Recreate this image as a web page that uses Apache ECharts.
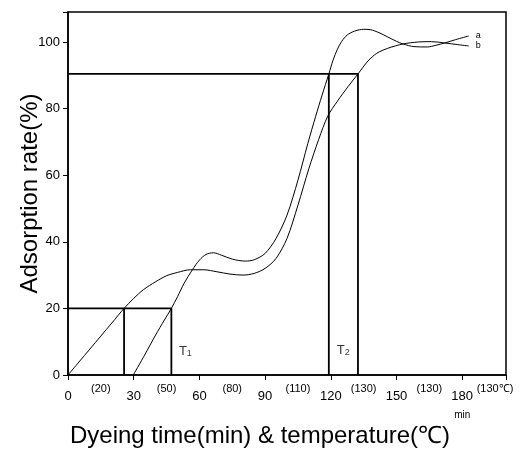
<!DOCTYPE html>
<html>
<head>
<meta charset="utf-8">
<script src="https://cdn.jsdelivr.net/npm/echarts@6/dist/echarts.min.js"></script>
<style>
  html, body { margin: 0; padding: 0; background: #fff; }
  #main { width: 526px; height: 451px; }
</style>
</head>
<body>
<div id="main"></div>
<script>
// curve a : starts at 30 min, overshoots around 130-140 min
var timeA  = [29.8, 35, 40, 44, 47.2, 50, 53, 56.8, 60, 63, 66.4, 70, 75, 81, 85, 90, 95, 100, 105, 109.5, 113.1, 116, 119.1, 121, 123, 125, 127.5, 131, 135, 138, 142, 146, 150, 153, 158, 164, 168, 172, 177, 183]
var valueA = [0, 6, 12, 16.5, 20, 23.5, 27.5, 31.6, 34.5, 36.2, 36.7, 36, 34.8, 34.2, 34.6, 36.5, 41, 48, 58.5, 69.5, 77.7, 84, 90.4, 94.5, 97.8, 100.2, 102.1, 103.3, 103.8, 103.7, 102.8, 101.5, 100.2, 99.4, 98.6, 98.5, 99, 99.7, 100.7, 101.8]
// curve b : starts at 0 min, smooth
var timeB  = [0, 5, 10, 15, 20, 25.6, 30, 34.4, 40, 45, 50, 55.9, 62, 68, 74, 80, 85, 90, 95, 100, 105, 110, 114.5, 118.6, 123, 128, 132.4, 137, 141, 146, 153, 160, 166, 172, 178, 183]
var valueB = [0, 3.9, 7.8, 11.7, 15.6, 20, 23, 25.6, 28, 29.8, 30.8, 31.6, 31.6, 31, 30.3, 30, 30.5, 32, 35, 41, 51, 62, 70.8, 77.7, 82.2, 86.7, 90.4, 94.3, 96.6, 98.1, 99.4, 100, 100.1, 99.7, 99.2, 98.8]

// T1 / T2 marker boxes
var t1Times = [25.6, 47.2]
var t1Level = 20
var t2Times = [119.1, 132.4]
var t2Level = 90.4
var markLabels = [['T', '1', 53.6, 7.2], ['T', '2', 125.7, 7.5]]

// axis labels
var timeTicks = [0, 30, 60, 90, 120, 150, 180]
var tempLabels = ['(20)', '(50)', '(80)', '(110)', '(130)', '(130)', '(130\u2103)']

var font = '"Liberation Sans", Arial, Helvetica, sans-serif'

function zip (xs, ys) {
  return xs.map(function (x, i) { return [x, ys[i]] })
}

function boxSeries (times, level) {
  var style = { color: '#000', width: 1.8 }
  return [
    { type: 'line', data: [[0, level], [times[1], level], [times[1], 0]], symbol: 'none', lineStyle: style, silent: true },
    { type: 'line', data: [[times[0], level], [times[0], 0]], symbol: 'none', lineStyle: style, silent: true }
  ]
}

var chart = echarts.init(document.getElementById('main'))

var option = {
  animation: false,
  backgroundColor: '#fff',
  grid: {
    left: 68, right: 20, top: 12, bottom: 76,
    containLabel: false, outerBoundsMode: 'none',
    show: true, borderColor: '#000', borderWidth: 1.5
  },
  xAxis: [
    {
      type: 'value', min: 0, max: 200, interval: 30,
      axisLine: { lineStyle: { color: '#000', width: 1.5 } },
      axisTick: { length: 5, lineStyle: { color: '#000', width: 1 } },
      splitLine: { show: false },
      axisLabel: {
        color: '#000', fontFamily: font, fontSize: 13, margin: 15,
        formatter: function (v) {
          if (timeTicks.indexOf(v) < 0) return ''
          if (v === 180) return '180\n{m|min}'
          return String(v)
        },
        rich: { m: { fontSize: 10, fontFamily: font, color: '#000', lineHeight: 24 } }
      },
      name: 'Dyeing time(min) & temperature(\u2103)',
      nameLocation: 'middle',
      nameGap: 49,
      nameMoveOverlap: false,
      nameTextStyle: { color: '#000', fontFamily: font, fontSize: 24, padding: [0, 54, 0, 0] }
    },
    {
      type: 'value', min: 0, max: 200, interval: 15, position: 'bottom',
      axisLine: { show: false }, axisTick: { show: false }, splitLine: { show: false },
      axisLabel: {
        color: '#000', fontFamily: font, fontSize: 11, margin: 8,
        formatter: function (v) {
          if (v % 30 !== 15) return ''
          return tempLabels[(v - 15) / 30] || ''
        }
      }
    }
  ],
  yAxis: {
    type: 'value', min: 0, max: 109, interval: 20,
    axisLine: { lineStyle: { color: '#000', width: 1.5 } },
    axisTick: { length: 5, lineStyle: { color: '#000', width: 1 } },
    splitLine: { show: false },
    axisLabel: {
      color: '#000', fontFamily: font, fontSize: 13, margin: 8,
      formatter: function (v) { return v % 20 === 0 ? String(v) : '' }
    },
    name: 'Adsorption rate(%)',
    nameLocation: 'middle',
    nameGap: 26,
    nameMoveOverlap: false,
    nameTextStyle: { color: '#000', fontFamily: font, fontSize: 24 }
  },
  series: [
    {
      name: 'a', type: 'line', smooth: 0.3, symbol: 'none',
      data: zip(timeA, valueA),
      lineStyle: { color: '#000', width: 1 },
      endLabel: { show: true, formatter: 'a', color: '#000', fontFamily: font, fontSize: 9, distance: 7 }
    },
    {
      name: 'b', type: 'line', smooth: 0.3, symbol: 'none',
      data: zip(timeB, valueB),
      lineStyle: { color: '#000', width: 1 },
      endLabel: { show: true, formatter: 'b', color: '#000', fontFamily: font, fontSize: 9, distance: 7 }
    },
    {
      type: 'scatter', symbolSize: 0, silent: true,
      data: markLabels.map(function (m) { return { value: [m[2], m[3]], main: m[0], sub: m[1] } }),
      label: {
        show: true, position: 'inside',
        formatter: function (p) { return '{t|' + p.data.main + '}{s|' + p.data.sub + '}' },
        rich: {
          t: { fontSize: 13, fontFamily: font, color: '#000' },
          s: { fontSize: 9, fontFamily: font, color: '#000', verticalAlign: 'bottom', padding: [5, 0, 0, 0] }
        }
      }
    }
  ].concat(boxSeries(t1Times, t1Level), boxSeries(t2Times, t2Level))
}

chart.setOption(option)
</script>
</body>
</html>
